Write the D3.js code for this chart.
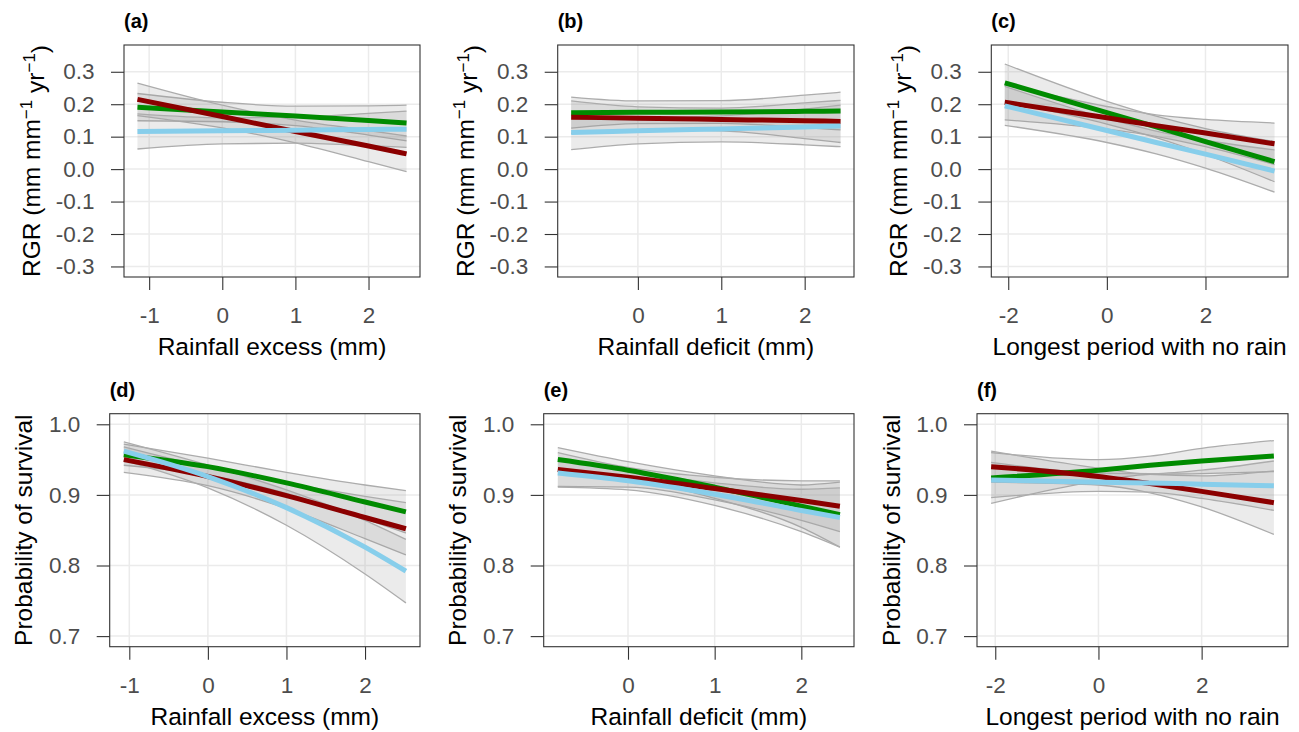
<!DOCTYPE html>
<html>
<head>
<meta charset="utf-8">
<script src="https://cdn.jsdelivr.net/npm/d3@7"></script>
<style>
  body { margin: 0; background: #fff; }
  text { font-family: "Liberation Sans", Arial, sans-serif; }
</style>
</head>
<body>
<svg id="fig" width="1299" height="732"></svg>
<script>
// ---- data: fitted value + lower/upper band at a few x positions ----

// (a) RGR ~ rainfall excess
const xsA = [-1.16, 0, 1, 2, 2.52];
const aGreen = [0.191, 0.176, 0.164, 0.150, 0.142];
const aGreenLo = [0.149, 0.146, 0.134, 0.105, 0.087];
const aGreenHi = [0.233, 0.206, 0.194, 0.195, 0.197];
const aRed = [0.215, 0.162, 0.116, 0.071, 0.047];
const aRedLo = [0.165, 0.127, 0.081, 0.023, -0.008];
const aRedHi = [0.265, 0.197, 0.151, 0.119, 0.102];
const aBlue = [0.116, 0.118, 0.120, 0.122, 0.123];
const aBlueLo = [0.062, 0.078, 0.080, 0.072, 0.067];
const aBlueHi = [0.170, 0.158, 0.160, 0.172, 0.179];

// (b) RGR ~ rainfall deficit
const xsB = [-0.80, 0, 1, 2, 2.43];
const bGreen = [0.174, 0.175, 0.176, 0.178, 0.179];
const bGreenLo = [0.126, 0.140, 0.141, 0.128, 0.121];
const bGreenHi = [0.222, 0.210, 0.211, 0.228, 0.237];
const bRed = [0.160, 0.157, 0.153, 0.149, 0.147];
const bRedLo = [0.110, 0.122, 0.118, 0.094, 0.082];
const bRedHi = [0.210, 0.192, 0.188, 0.204, 0.212];
const bBlue = [0.113, 0.118, 0.124, 0.130, 0.133];
const bBlueLo = [0.060, 0.078, 0.084, 0.075, 0.069];
const bBlueHi = [0.166, 0.158, 0.164, 0.185, 0.197];

// (c) RGR ~ longest period with no rain
const xsC = [-2.07, 0, 1, 2, 3.40];
const cGreen = [0.266, 0.174, 0.130, 0.085, 0.023];
const cGreenLo = [0.208, 0.139, 0.097, 0.045, -0.039];
const cGreenHi = [0.324, 0.209, 0.163, 0.125, 0.085];
const cRed = [0.206, 0.158, 0.134, 0.111, 0.078];
const cRedLo = [0.152, 0.123, 0.101, 0.069, 0.014];
const cRedHi = [0.260, 0.193, 0.167, 0.153, 0.142];
const cBlue = [0.195, 0.119, 0.082, 0.046, -0.006];
const cBlueLo = [0.135, 0.082, 0.047, 0.003, -0.071];
const cBlueHi = [0.255, 0.156, 0.117, 0.089, 0.059];

// (d) survival ~ rainfall excess
const xsD = [-1.07, 0, 1, 2, 2.52];
const dGreen = [0.957, 0.940, 0.917, 0.890, 0.876];
const dGreenLo = [0.942, 0.928, 0.902, 0.866, 0.846];
const dGreenHi = [0.972, 0.952, 0.932, 0.914, 0.906];
const dRed = [0.950, 0.926, 0.899, 0.868, 0.852];
const dRedLo = [0.932, 0.913, 0.881, 0.838, 0.815];
const dRedHi = [0.968, 0.939, 0.917, 0.898, 0.889];
const dBlue = [0.962, 0.926, 0.882, 0.826, 0.792];
const dBlueLo = [0.949, 0.910, 0.857, 0.788, 0.747];
const dBlueHi = [0.975, 0.942, 0.907, 0.864, 0.837];

// (e) survival ~ rainfall deficit
const xsE = [-0.81, 0, 1, 2, 2.445];
const eGreen = [0.950, 0.935, 0.911, 0.884, 0.872];
const eGreenLo = [0.933, 0.923, 0.895, 0.854, 0.826];
const eGreenHi = [0.967, 0.947, 0.927, 0.914, 0.918];
const eRed = [0.936, 0.925, 0.909, 0.892, 0.884];
const eRedLo = [0.912, 0.911, 0.893, 0.864, 0.848];
const eRedHi = [0.960, 0.939, 0.925, 0.920, 0.920];
const eBlue = [0.931, 0.920, 0.901, 0.878, 0.868];
const eBlueLo = [0.911, 0.907, 0.885, 0.848, 0.826];
const eBlueHi = [0.951, 0.933, 0.917, 0.908, 0.910];

// (f) survival ~ longest period with no rain
const xsF = [-2.08, 0, 1, 2, 3.40];
const fGreen = [0.924, 0.935, 0.942, 0.948, 0.955];
const fGreenLo = [0.888, 0.920, 0.929, 0.930, 0.933];
const fGreenHi = [0.960, 0.950, 0.955, 0.966, 0.977];
const fRed = [0.940, 0.926, 0.916, 0.905, 0.889];
const fRedLo = [0.918, 0.914, 0.903, 0.883, 0.844];
const fRedHi = [0.962, 0.938, 0.929, 0.927, 0.934];
const fBlue = [0.921, 0.918, 0.917, 0.915, 0.913];
const fBlueLo = [0.896, 0.905, 0.904, 0.895, 0.878];
const fBlueHi = [0.946, 0.931, 0.930, 0.935, 0.948];

// axis ticks and labels
const yTicksRGR = [-0.3, -0.2, -0.1, 0.0, 0.1, 0.2, 0.3];
const yLimitsRGR = [-0.3, 0.35];
const yTicksSurv = [0.7, 0.8, 0.9, 1.0];
const yLimitsSurv = [0.7, 1.0];
const xTicksExcess = [-1, 0, 1, 2];
const xTicksDeficit = [0, 1, 2];
const xTicksDry = [-2, 0, 2];
const xTitles = ["Rainfall excess (mm)", "Rainfall deficit (mm)", "Longest period with no rain"];
const panelLetters = ["(a)", "(b)", "(c)", "(d)", "(e)", "(f)"];

const colGreen = "#008b00", colRed = "#8b0000", colBlue = "#87ceeb";

const svg = d3.select("#fig");

function drawPanel(p) {
	const g = svg.append("g");

	// ggplot-like 5% expansion of the data range
	const xe = d3.extent(p.xs);
	const xpad = (xe[1] - xe[0]) * 0.05;
	const x = d3.scaleLinear().domain([xe[0] - xpad, xe[1] + xpad]).range([p.left, p.right]);
	const ypad = (p.yLimits[1] - p.yLimits[0]) * 0.05;
	const y = d3.scaleLinear().domain([p.yLimits[0] - ypad, p.yLimits[1] + ypad]).range([p.bottom, p.top]);

	// grid
	g.selectAll(".gy").data(p.yTicks).join("line")
		.attr("x1", p.left).attr("x2", p.right)
		.attr("y1", d => y(d)).attr("y2", d => y(d))
		.attr("stroke", "#ebebeb").attr("stroke-width", 1.5);
	g.selectAll(".gx").data(p.xTicks).join("line")
		.attr("y1", p.top).attr("y2", p.bottom)
		.attr("x1", d => x(d)).attr("x2", d => x(d))
		.attr("stroke", "#ebebeb").attr("stroke-width", 1.5);

	const curve = d3.curveMonotoneX;
	const band = d3.area().curve(curve)
		.x((d, i) => x(p.xs[i]))
		.y0(d => y(d[0])).y1(d => y(d[1]));
	const line = d3.line().curve(curve)
		.x((d, i) => x(p.xs[i]))
		.y(d => y(d));

	// confidence bands first, all three
	p.series.forEach(s => {
		g.append("path")
			.attr("d", band(s.lo.map((v, i) => [v, s.hi[i]])))
			.attr("fill", "#999999").attr("fill-opacity", 0.2).attr("stroke", "none");
		[s.lo, s.hi].forEach(edge => {
			g.append("path").attr("d", line(edge))
				.attr("fill", "none").attr("stroke", "#acacac").attr("stroke-width", 1.3);
		});
	});

	// fitted lines
	p.series.forEach(s => {
		g.append("path").attr("d", line(s.fit))
			.attr("fill", "none").attr("stroke", s.color).attr("stroke-width", 5);
	});

	// border
	g.append("rect")
		.attr("x", p.left).attr("y", p.top)
		.attr("width", p.right - p.left).attr("height", p.bottom - p.top)
		.attr("fill", "none").attr("stroke", "#333333").attr("stroke-width", 1.1);

	// axes
	const ya = g.append("g").attr("transform", `translate(${p.left},0)`)
		.call(d3.axisLeft(y).tickValues(p.yTicks).tickSize(13).tickPadding(16.5)
			.tickFormat(d => d.toFixed(1)));
	const xa = g.append("g").attr("transform", `translate(0,${p.bottom})`)
		.call(d3.axisBottom(x).tickValues(p.xTicks).tickSize(13).tickPadding(17)
			.tickFormat(d => String(d)));
	[ya, xa].forEach(a => {
		a.select(".domain").remove();
		a.selectAll(".tick line").attr("stroke", "#333333").attr("stroke-width", 1.1);
		a.selectAll(".tick text").attr("fill", "#4d4d4d")
			.style("font-size", "22.5px").style("font-family", "Liberation Sans, Arial, sans-serif");
	});

	// x title
	g.append("text")
		.attr("x", (p.left + p.right) / 2).attr("y", p.bottom + 78)
		.attr("text-anchor", "middle").attr("fill", "#000")
		.style("font-size", "24.5px")
		.text(p.xTitle);

	// y title (rotated)
	const yt = g.append("text")
		.attr("transform", `translate(${p.left - p.yTitleGap},${(p.top + p.bottom) / 2}) rotate(-90)`)
		.attr("text-anchor", "middle").attr("fill", "#000")
		.style("font-size", "24.5px");
	if (p.rgr) {
		yt.append("tspan").text("RGR (mm mm");
		yt.append("tspan").attr("dy", "-0.5em").style("font-size", "17px").text("\u22121");
		yt.append("tspan").attr("dy", "0.5em").text(" yr");
		yt.append("tspan").attr("dy", "-0.5em").style("font-size", "17px").text("\u22121");
		yt.append("tspan").attr("dy", "0.5em").text(")");
	} else {
		yt.text("Probability of survival");
	}

	// panel letter
	g.append("text")
		.attr("x", p.left).attr("y", p.top - 17)
		.attr("fill", "#000").style("font-size", "20px").style("font-weight", "bold")
		.text(p.letter);
}

function ser(fit, lo, hi, color) {
	return { fit: fit, lo: lo, hi: hi, color: color };
}

const topRow = { top: 45, bottom: 277, yTicks: yTicksRGR, yLimits: yLimitsRGR, rgr: true, yTitleGap: 84 };
const botRow = { top: 413.7, bottom: 646.7, yTicks: yTicksSurv, yLimits: yLimitsSurv, rgr: false, yTitleGap: 77.5 };

const panels = [
	Object.assign({}, topRow, { left: 124, right: 420, xs: xsA, xTicks: xTicksExcess, xTitle: xTitles[0], letter: panelLetters[0],
		series: [ser(aGreen, aGreenLo, aGreenHi, colGreen), ser(aRed, aRedLo, aRedHi, colRed), ser(aBlue, aBlueLo, aBlueHi, colBlue)] }),
	Object.assign({}, topRow, { left: 557.7, right: 854, xs: xsB, xTicks: xTicksDeficit, xTitle: xTitles[1], letter: panelLetters[1],
		series: [ser(bGreen, bGreenLo, bGreenHi, colGreen), ser(bRed, bRedLo, bRedHi, colRed), ser(bBlue, bBlueLo, bBlueHi, colBlue)] }),
	Object.assign({}, topRow, { left: 991.3, right: 1288, xs: xsC, xTicks: xTicksDry, xTitle: xTitles[2], letter: panelLetters[2],
		series: [ser(cGreen, cGreenLo, cGreenHi, colGreen), ser(cRed, cRedLo, cRedHi, colRed), ser(cBlue, cBlueLo, cBlueHi, colBlue)] }),
	Object.assign({}, botRow, { left: 109.7, right: 420, xs: xsD, xTicks: xTicksExcess, xTitle: xTitles[0], letter: panelLetters[3],
		series: [ser(dGreen, dGreenLo, dGreenHi, colGreen), ser(dRed, dRedLo, dRedHi, colRed), ser(dBlue, dBlueLo, dBlueHi, colBlue)] }),
	Object.assign({}, botRow, { left: 543.7, right: 854, xs: xsE, xTicks: xTicksDeficit, xTitle: xTitles[1], letter: panelLetters[4],
		series: [ser(eGreen, eGreenLo, eGreenHi, colGreen), ser(eRed, eRedLo, eRedHi, colRed), ser(eBlue, eBlueLo, eBlueHi, colBlue)] }),
	Object.assign({}, botRow, { left: 977, right: 1288, xs: xsF, xTicks: xTicksDry, xTitle: xTitles[2], letter: panelLetters[5],
		series: [ser(fGreen, fGreenLo, fGreenHi, colGreen), ser(fRed, fRedLo, fRedHi, colRed), ser(fBlue, fBlueLo, fBlueHi, colBlue)] })
];

panels.forEach(drawPanel);
</script>
</body>
</html>
